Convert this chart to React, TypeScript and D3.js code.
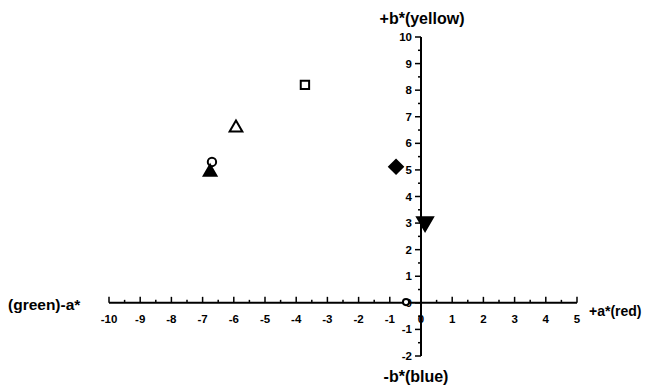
import React from "react";
import * as d3 from "d3";

const xTicks = [-10, -9, -8, -7, -6, -5, -4, -3, -2, -1, 0, 1, 2, 3, 4, 5];
const yTicks = [-2, -1, 0, 1, 2, 3, 4, 5, 6, 7, 8, 9, 10];
const pointA = [-3.72, -5.93, -6.7, -6.76, -0.8, 0.13, -0.48];
const pointB = [8.2, 6.58, 5.3, 4.92, 5.12, 3.05, 0.03];
const pointShape = ["square", "triangle", "circle", "triangle", "diamond", "triangleDown", "circleSmall"];
const pointFilled = [false, false, false, true, true, true, false];

export default function App() {
  const W = 649, H = 391;
  const x = d3.scaleLinear().domain([-10, 5]).range([109, 577]);
  const y = d3.scaleLinear().domain([-2, 10]).range([356, 37]);
  const x0 = x(0), y0 = y(0);
  const font = "'Liberation Sans', Arial, sans-serif";
  const xMinor = d3.range(-10, 5.01, 0.5).filter((v) => !Number.isInteger(v));
  const yMinor = d3.range(-2, 10.01, 0.5).filter((v) => !Number.isInteger(v));

  const sym = (shape: string) => {
    switch (shape) {
      case "square": return d3.symbol(d3.symbolSquare, 70)();
      case "triangle": return d3.symbol(d3.symbolTriangle, 70)();
      case "diamond": return d3.symbol(d3.symbolSquare, 95)();
      case "circle": return d3.symbol(d3.symbolCircle, 55)();
      case "circleSmall": return d3.symbol(d3.symbolCircle, 30)();
      case "triangleDown": return d3.symbol(d3.symbolTriangle, 110)();
      default: return d3.symbol(d3.symbolCircle, 60)();
    }
  };
  const rot = (shape: string) =>
    shape === "triangleDown" ? " rotate(180)" : shape === "diamond" ? " rotate(45)" : "";

  return (
    <svg width={W} height={H} style={{ position: "absolute", left: 0, top: 0, background: "#fff" }}>
      {/* x axis */}
      <line x1={x(-10)} x2={x(5)} y1={y0} y2={y0} stroke="#000" strokeWidth={2} />
      {xTicks.map((t) => (
        <g key={"xt" + t}>
          <line x1={x(t)} x2={x(t)} y1={y0} y2={y0 - 6} stroke="#000" strokeWidth={1.5} />
          <text x={x(t)} y={y0 + 20} textAnchor="middle" fontFamily={font} fontWeight="bold" fontSize={11.5}>{t}</text>
        </g>
      ))}
      {xMinor.map((t) => (
        <line key={"xm" + t} x1={x(t)} x2={x(t)} y1={y0} y2={y0 - 3} stroke="#000" strokeWidth={1.5} />
      ))}
      {/* y axis */}
      <line x1={x0} x2={x0} y1={y(-2)} y2={y(10)} stroke="#000" strokeWidth={2} />
      {yTicks.map((t) => (
        <g key={"yt" + t}>
          <line x1={x0} x2={x0 - 6} y1={y(t)} y2={y(t)} stroke="#000" strokeWidth={1.5} />
          <text x={x0 - 9} y={y(t) + 4} textAnchor="end" fontFamily={font} fontWeight="bold" fontSize={11.5}>{t}</text>
        </g>
      ))}
      {yMinor.map((t) => (
        <line key={"ym" + t} x1={x0} x2={x0 - 3} y1={y(t)} y2={y(t)} stroke="#000" strokeWidth={1.5} />
      ))}
      {/* axis titles */}
      <text x={8} y={y0 + 7} fontFamily={font} fontWeight="bold" fontSize={15.5}>(green)-a*</text>
      <text x={589} y={y0 + 13} fontFamily={font} fontWeight="bold" fontSize={14}>+a*(red)</text>
      <text x={422} y={24} textAnchor="middle" fontFamily={font} fontWeight="bold" fontSize={16}>+b*(yellow)</text>
      <text x={416} y={382} textAnchor="middle" fontFamily={font} fontWeight="bold" fontSize={16}>-b*(blue)</text>
      {/* points */}
      {pointA.map((a, i) => (
        <path
          key={"p" + i}
          d={sym(pointShape[i]) as string}
          transform={`translate(${x(a)},${y(pointB[i])})${rot(pointShape[i])}`}
          fill={pointFilled[i] ? "#000" : "#fff"}
          stroke="#000"
          strokeWidth={2}
        />
      ))}
    </svg>
  );
}
